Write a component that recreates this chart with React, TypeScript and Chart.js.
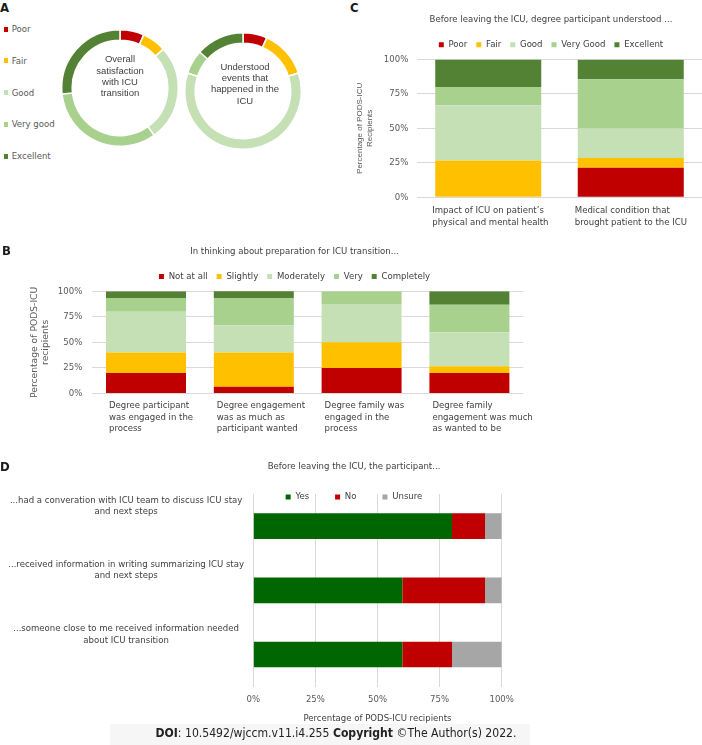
import React, { useEffect, useRef } from 'react';
import { Chart, registerables } from 'chart.js';

Chart.register(...registerables);

const FONT = "'DejaVu Sans Condensed', 'Liberation Sans', sans-serif";
const TXT = '#404040';
const TICK = '#595959';
const GRID = '#d9d9d9';

Chart.defaults.font.family = FONT;
Chart.defaults.font.size = 9.5;
Chart.defaults.color = TICK;

// ---------- Panel A ----------
const ratingLabels = ['Poor', 'Fair', 'Good', 'Very good', 'Excellent'];
const ratingColors = ['#C00000', '#FFC000', '#C5E0B4', '#A9D18E', '#548235'];
const satisfactionValues = [6.7, 6.7, 26.7, 33.3, 26.7];
const understoodEventsValues = [6.7, 13.3, 60.0, 6.7, 13.3];
const satisfactionCenter = ['Overall', 'satisfaction', 'with ICU', 'transition'];
const eventsCenter = ['Understood', 'events that', 'happened in the', 'ICU'];

// ---------- Panel C ----------
const cTitle = 'Before leaving the ICU, degree participant understood ...';
const cLegend = ['Poor', 'Fair', 'Good', 'Very Good', 'Excellent'];
const cCategories = [
  ["Impact of ICU on patient\u2019s", 'physical and mental health'],
  ['Medical condition that', 'brought patient to the ICU'],
];
const cPoor = [0, 21.4];
const cFair = [26.7, 7.1];
const cGood = [40.0, 21.4];
const cVeryGood = [13.3, 35.7];
const cExcellent = [20.0, 14.3];
const cYTitle = ['Percentage of PODS-ICU', 'Recipients'];

// ---------- Panel B ----------
const bTitle = 'In thinking about preparation for ICU transition...';
const bLegend = ['Not at all', 'Slightly', 'Moderately', 'Very', 'Completely'];
const bCategories = [
  ['Degree participant', 'was engaged in the', 'process'],
  ['Degree engagement', 'was as much as', 'participant wanted'],
  ['Degree family was', 'engaged in the', 'process'],
  ['Degree family', 'engagement was much', 'as wanted to be'],
];
const bNotAtAll = [20.0, 6.7, 25.0, 20.0];
const bSlightly = [20.0, 33.3, 25.0, 6.7];
const bModerately = [40.0, 26.7, 37.5, 33.3];
const bVery = [13.3, 26.7, 12.5, 26.7];
const bCompletely = [6.7, 6.7, 0, 13.3];
const bYTitle = ['Percentage of PODS-ICU', 'recipients'];

// ---------- Panel D ----------
const dTitle = 'Before leaving the ICU, the participant...';
const dLegend = ['Yes', 'No', 'Unsure'];
const dColors = ['#006600', '#C00000', '#A6A6A6'];
const dCategories = [
  ['...had a converation with ICU team to discuss ICU stay', 'and next steps'],
  ['...received information in writing summarizing ICU stay', 'and next steps'],
  ['...someone close to me received information needed', 'about ICU transition'],
];
const dYes = [80.0, 60.0, 60.0];
const dNo = [13.3, 33.3, 20.0];
const dUnsure = [6.7, 6.7, 20.0];
const dXTitle = 'Percentage of PODS-ICU recipients';

const percentTicks = [0, 25, 50, 75, 100];

// ---------- plugins ----------
const centerText = {
  id: 'centerText',
  afterDraw(chart: any, _args: any, opts: any) {
    if (!opts || !opts.lines) return;
    const { ctx, chartArea } = chart;
    const cx = (chartArea.left + chartArea.right) / 2 + (opts.dx || 0);
    const cy = (chartArea.top + chartArea.bottom) / 2 + (opts.dy || 0);
    ctx.save();
    ctx.font = `${opts.size}px ${opts.family}`;
    ctx.fillStyle = opts.color;
    ctx.textAlign = 'center';
    ctx.textBaseline = 'middle';
    const n = opts.lines.length;
    opts.lines.forEach((l: string, i: number) => {
      ctx.fillText(l, cx, cy + (i - (n - 1) / 2) * opts.lineHeight);
    });
    ctx.restore();
  },
};

const legendTune = {
  id: 'legendTune',
  beforeLayout(chart: any, _args: any, opts: any) {
    const lg = chart.legend;
    if (lg && !lg._tuned && opts && opts.height != null) {
      const orig = lg.fit;
      lg.fit = function () {
        orig.call(this);
        this.height = opts.height;
      };
      lg._tuned = true;
    }
  },
  afterLayout(chart: any, _args: any, opts: any) {
    const lg = chart.legend;
    if (lg && opts && opts.dy) {
      lg.top += opts.dy;
      lg.bottom = lg.top + 60;
    }
  },
};

const dummyAxis = (w: number) => ({
  type: 'linear',
  position: 'right',
  display: true,
  grid: { display: false, drawTicks: false },
  border: { display: false },
  ticks: { display: false },
  afterFit: (s: any) => {
    s.width = w;
  },
});

const pct = (v: any) => v + '%';

// ---------- configs ----------
function donutConfig(values: number[], lines: string[], dy: number, dx: number) {
  return {
    type: 'doughnut',
    data: {
      labels: ratingLabels,
      datasets: [
        {
          data: values,
          backgroundColor: ratingColors,
          borderColor: '#ffffff',
          borderWidth: 1.5,
        },
      ],
    },
    options: {
      responsive: false,
      animation: false,
      events: [],
      cutout: '82%',
      plugins: {
        legend: { display: false },
        tooltip: { enabled: false },
        centerText: {
          lines,
          dy,
          dx,
          size: 9.5,
          family: "'Liberation Sans', Arial, sans-serif",
          color: TXT,
          lineHeight: 11.3,
        },
      },
    },
    plugins: [centerText],
  };
}

function cConfig() {
  const series = [cPoor, cFair, cGood, cVeryGood, cExcellent];
  return {
    type: 'bar',
    data: {
      labels: cCategories,
      datasets: cLegend.map((l, i) => ({
        label: l,
        data: series[i],
        backgroundColor: ratingColors[i],
        borderWidth: 0,
        barPercentage: 0.744,
        categoryPercentage: 1,
      })),
    },
    options: {
      responsive: false,
      animation: false,
      events: [],
      plugins: {
        title: {
          display: true,
          text: cTitle,
          color: TXT,
          font: { size: 9.5, weight: 'normal' },
          padding: { top: 14.3, bottom: 5.3 },
        },
        legend: {
          display: true,
          position: 'top',
          labels: { boxWidth: 5, boxHeight: 5, padding: 9, color: TXT, font: { size: 9.5 } },
        },
        tooltip: { enabled: false },
      },
      scales: {
        x: {
          stacked: true,
          grid: { display: false, drawTicks: false },
          border: { display: false },
          ticks: {
            align: 'start',
            labelOffset: -56,
            padding: 8,
            color: TXT,
            autoSkip: false,
            maxRotation: 0,
            font: { size: 9.5 },
          },
        },
        y: {
          stacked: true,
          min: 0,
          max: 100,
          afterBuildTicks: (s: any) => {
            s.ticks = percentTicks.map((v) => ({ value: v }));
          },
          grid: { color: GRID, drawTicks: false },
          border: { display: false },
          ticks: { padding: 8.7, color: TICK, callback: pct },
          title: {
            display: true,
            text: cYTitle,
            color: TICK,
            font: { size: 8, family: "'Liberation Sans', Arial, sans-serif", lineHeight: 1.25 },
            padding: { top: 55, bottom: 0 },
          },
          afterFit: (s: any) => {
            s.width = 117;
          },
        },
        yR: dummyAxis(100),
      },
    },
  };
}

function bConfig() {
  const series = [bNotAtAll, bSlightly, bModerately, bVery, bCompletely];
  return {
    type: 'bar',
    data: {
      labels: bCategories,
      datasets: bLegend.map((l, i) => ({
        label: l,
        data: series[i],
        backgroundColor: ratingColors[i],
        borderWidth: 0,
        barPercentage: 0.742,
        categoryPercentage: 1,
      })),
    },
    options: {
      responsive: false,
      animation: false,
      events: [],
      plugins: {
        title: {
          display: true,
          text: bTitle,
          color: TXT,
          font: { size: 9.5, weight: 'normal' },
          padding: { top: 10.3, bottom: 5 },
        },
        legend: {
          display: true,
          position: 'top',
          labels: { boxWidth: 5, boxHeight: 5, padding: 9, color: TXT, font: { size: 9.5 } },
        },
        tooltip: { enabled: false },
      },
      scales: {
        x: {
          stacked: true,
          grid: { display: false, drawTicks: false },
          border: { display: false },
          ticks: {
            align: 'start',
            labelOffset: -37,
            padding: 6.2,
            color: TXT,
            autoSkip: false,
            maxRotation: 0,
            font: { size: 9.5, lineHeight: 1.23 },
          },
        },
        y: {
          stacked: true,
          min: 0,
          max: 100,
          afterBuildTicks: (s: any) => {
            s.ticks = percentTicks.map((v) => ({ value: v }));
          },
          grid: { color: GRID, drawTicks: false },
          border: { display: false },
          ticks: { padding: 9.8, color: TICK, callback: pct },
          title: {
            display: true,
            text: bYTitle,
            color: TICK,
            font: { size: 9.2, family: "'DejaVu Sans', sans-serif" },
            padding: { top: 29.3, bottom: 0 },
          },
          afterFit: (s: any) => {
            s.width = 92.1;
          },
        },
        yR: dummyAxis(65.7),
      },
    },
  };
}

function dConfig() {
  const series = [dYes, dNo, dUnsure];
  return {
    type: 'bar',
    data: {
      labels: dCategories,
      datasets: dLegend.map((l, i) => ({
        label: l,
        data: series[i],
        backgroundColor: dColors[i],
        borderWidth: 0,
        barPercentage: 0.4,
        categoryPercentage: 1,
      })),
    },
    options: {
      indexAxis: 'y',
      responsive: false,
      animation: false,
      events: [],
      plugins: {
        title: {
          display: true,
          text: dTitle,
          color: TXT,
          font: { size: 9.5, weight: 'normal' },
          padding: { top: 16.3, bottom: 0 },
        },
        legend: {
          display: true,
          position: 'top',
          labels: { boxWidth: 5, boxHeight: 5, padding: 26, color: TXT, font: { size: 9.5 } },
        },
        legendTune: { height: 21.3, dy: -6.45 },
        tooltip: { enabled: false },
      },
      scales: {
        x: {
          type: 'linear',
          stacked: true,
          min: 0,
          max: 100,
          afterBuildTicks: (s: any) => {
            s.ticks = percentTicks.map((v) => ({ value: v }));
          },
          grid: { color: GRID, drawTicks: false },
          border: { display: false },
          ticks: { padding: 7.3, color: TICK, callback: pct },
          title: {
            display: true,
            text: dXTitle,
            color: TXT,
            font: { size: 9.5 },
            padding: { top: 0, bottom: 4 },
          },
        },
        y: {
          type: 'category',
          stacked: true,
          grid: { display: false, drawTicks: false },
          border: { display: false },
          ticks: {
            crossAlign: 'center',
            padding: 9.3,
            labelOffset: -20,
            color: TXT,
            autoSkip: false,
            font: { size: 9.5 },
          },
          afterFit: (s: any) => {
            s.width = 253.3;
          },
        },
        yR: dummyAxis(206.3),
      },
    },
    plugins: [legendTune],
  };
}

function ChartCanvas(props: { left: number; top: number; width: number; height: number; make: () => any }) {
  const ref = useRef<HTMLCanvasElement | null>(null);
  useEffect(() => {
    const chart = new Chart(ref.current as HTMLCanvasElement, props.make());
    return () => chart.destroy();
  }, []);
  return (
    <canvas
      ref={ref}
      width={props.width}
      height={props.height}
      style={{ position: 'absolute', left: props.left, top: props.top, width: props.width, height: props.height }}
    />
  );
}

const letterStyle = (left: number, top: number): React.CSSProperties => ({
  position: 'absolute',
  left,
  top,
  fontFamily: FONT,
  fontWeight: 'bold',
  fontSize: 13,
  lineHeight: '13px',
  color: '#1a1a1a',
});

export default function App() {
  return (
    <div
      style={{
        position: 'absolute',
        left: 0,
        top: 0,
        width: 702,
        height: 745,
        overflow: 'hidden',
        background: '#ffffff',
        fontFamily: FONT,
      }}
    >
      {/* Panel A */}
      <div style={letterStyle(0, 1.2)}>A</div>
      {ratingLabels.map((l, i) => (
        <React.Fragment key={l}>
          <div
            style={{
              position: 'absolute',
              left: 4,
              top: 29 + i * 31.8 - 2.5,
              width: 4,
              height: 5,
              background: ratingColors[i],
            }}
          />
          <div
            style={{
              position: 'absolute',
              left: 11.7,
              top: 29 + i * 31.8 - 6,
              fontSize: 9.5,
              lineHeight: '12px',
              color: TICK,
              whiteSpace: 'nowrap',
            }}
          >
            {l}
          </div>
        </React.Fragment>
      ))}
      <ChartCanvas left={61} top={29} width={118} height={118} make={() => donutConfig(satisfactionValues, satisfactionCenter, -11.25, 0)} />
      <ChartCanvas left={184} top={32} width={118} height={118} make={() => donutConfig(understoodEventsValues, eventsCenter, -6.8, 2)} />

      {/* Panel C */}
      <div style={letterStyle(350, 1.2)}>C</div>
      <ChartCanvas left={300} top={0} width={502} height={236} make={cConfig} />

      {/* Panel B */}
      <ChartCanvas left={0} top={236} width={589} height={205} make={bConfig} />
      <div style={letterStyle(2, 244.2)}>B</div>

      {/* Panel D */}
      <div
        style={{
          position: 'absolute',
          left: 110,
          top: 724,
          width: 420,
          height: 21,
          background: '#f6f6f6',
        }}
      />
      <ChartCanvas left={0} top={445} width={708} height={283} make={dConfig} />
      <div style={letterStyle(0, 460.4)}>D</div>

      <div
        style={{
          position: 'absolute',
          left: 336,
          top: 726,
          transform: 'translateX(-50%)',
          fontSize: 12.1,
          lineHeight: '14px',
          color: '#222222',
          whiteSpace: 'nowrap',
        }}
      >
        <b>DOI</b>: 10.5492/wjccm.v11.i4.255 <b>Copyright</b> ©The Author(s) 2022.
      </div>
    </div>
  );
}
